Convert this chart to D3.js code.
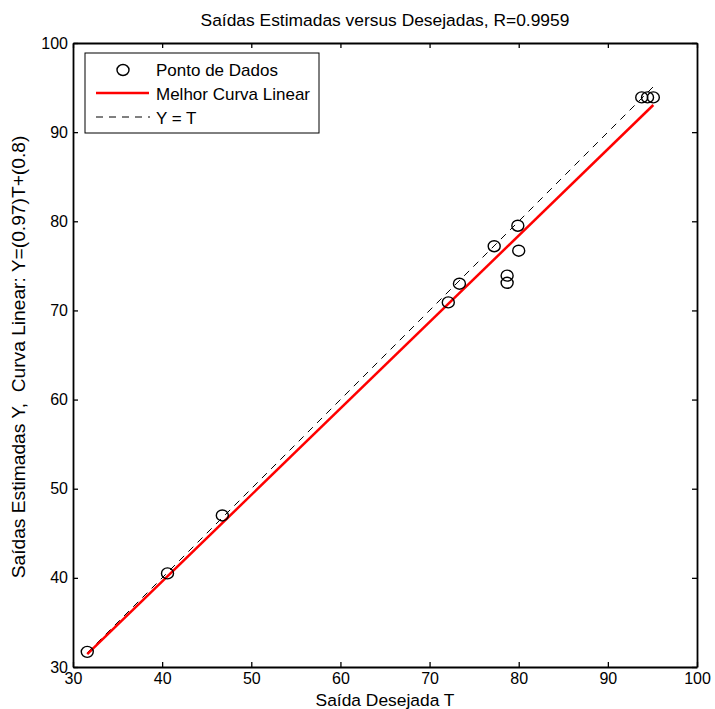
<!DOCTYPE html>
<html>
<head>
<meta charset="utf-8">
<script src="https://cdn.jsdelivr.net/npm/d3@7/dist/d3.min.js"></script>
<style>
  body { margin: 0; background: #fff; }
  svg { font-family: "Liberation Sans", Arial, sans-serif; }
  .axis path, .axis line { stroke: #000; }
  .axis text { font-size: 16px; fill: #000; font-family: "Liberation Sans", Arial, sans-serif; }
</style>
</head>
<body>
<svg id="chart"></svg>
<script>
// desired outputs T and estimated outputs Y
var targets = [31.6, 40.6, 46.75, 72.1, 73.35, 77.25, 79.9, 80.0, 78.7, 78.7, 93.8, 94.45, 95.1];
var outputs = [31.7, 40.5, 47.0, 70.9, 73.0, 77.2, 79.5, 76.7, 73.9, 73.1, 93.9, 93.9, 93.9];
var fitSlope = 0.97, fitIntercept = 0.8;
var xTicks = [30, 40, 50, 60, 70, 80, 90, 100];
var yTicks = [30, 40, 50, 60, 70, 80, 90, 100];
var legendLabels = ["Ponto de Dados", "Melhor Curva Linear", "Y = T"];

const W = 715, H = 709;
const margin = {top: 43, right: 18, bottom: 42, left: 73};
const width = W - margin.left - margin.right;
const height = H - margin.top - margin.bottom;

var svg = d3.select("#chart").attr("width", W).attr("height", H);
var g = svg.append("g").attr("transform", "translate(" + margin.left + "," + margin.top + ")");

var x = d3.scaleLinear().domain([30, 100]).range([0, width]);
var y = d3.scaleLinear().domain([30, 100]).range([height, 0]);

var data = targets.map((t, i) => ({t: t, y: outputs[i]}));
var tMin = d3.min(targets), tMax = d3.max(targets);

// axes, matlab style ticks pointing inwards on all four sides
g.append("g").attr("class", "axis").attr("transform", "translate(0," + height + ")")
  .call(d3.axisBottom(x).tickValues(xTicks).tickSize(-5).tickSizeOuter(0).tickPadding(6));
g.append("g").attr("class", "axis")
  .call(d3.axisTop(x).tickValues(xTicks).tickSize(-5).tickSizeOuter(0).tickFormat(""));
g.append("g").attr("class", "axis")
  .call(d3.axisLeft(y).tickValues(yTicks).tickSize(-5).tickSizeOuter(0).tickPadding(5));
g.append("g").attr("class", "axis").attr("transform", "translate(" + width + ",0)")
  .call(d3.axisRight(y).tickValues(yTicks).tickSize(-5).tickSizeOuter(0).tickFormat(""));
g.selectAll(".axis path").attr("stroke-width", 1.8);
g.selectAll(".axis line").attr("stroke-width", 1.3);

// Y = T line
g.append("line")
  .attr("x1", x(tMin)).attr("y1", y(tMin))
  .attr("x2", x(tMax)).attr("y2", y(tMax))
  .attr("stroke", "#000").attr("stroke-width", 1)
  .attr("stroke-dasharray", "7,6");

// best linear fit
g.append("line")
  .attr("x1", x(tMin)).attr("y1", y(fitSlope * tMin + fitIntercept))
  .attr("x2", x(tMax)).attr("y2", y(fitSlope * tMax + fitIntercept))
  .attr("stroke", "#ff0000").attr("stroke-width", 2.5);

// data points
g.selectAll("ellipse.pt").data(data).enter().append("ellipse")
  .attr("class", "pt")
  .attr("cx", d => x(d.t)).attr("cy", d => y(d.y))
  .attr("rx", 6).attr("ry", 5.5)
  .attr("fill", "none").attr("stroke", "#000").attr("stroke-width", 1.4);

// legend
var lg = svg.append("g").attr("transform", "translate(85,53)");
lg.append("rect").attr("width", 234).attr("height", 80)
  .attr("fill", "#fff").attr("stroke", "#000").attr("stroke-width", 1);
lg.append("ellipse").attr("cx", 38).attr("cy", 17).attr("rx", 6).attr("ry", 5.5)
  .attr("fill", "none").attr("stroke", "#000").attr("stroke-width", 1.4);
lg.append("line").attr("x1", 11).attr("x2", 64).attr("y1", 40).attr("y2", 40)
  .attr("stroke", "#ff0000").attr("stroke-width", 2.5);
lg.append("line").attr("x1", 11).attr("x2", 65).attr("y1", 64).attr("y2", 64)
  .attr("stroke", "#000").attr("stroke-width", 1).attr("stroke-dasharray", "7,6");
lg.selectAll("text.lab").data(legendLabels).enter().append("text")
  .attr("class", "lab")
  .attr("x", 71).attr("y", (d, i) => 17 + i * 24)
  .attr("dy", "0.36em")
  .attr("font-size", 17)
  .text(d => d);

// title and axis labels
svg.append("text").attr("x", margin.left + width / 2).attr("y", 26)
  .attr("text-anchor", "middle").attr("font-size", 17.4)
  .text("Saídas Estimadas versus Desejadas, R=0.9959");
svg.append("text").attr("x", margin.left + width / 2).attr("y", 706)
  .attr("text-anchor", "middle").attr("font-size", 17.4)
  .text("Saída Desejada T");
svg.append("text")
  .attr("transform", "translate(25," + (margin.top + height / 2 + 2) + ") rotate(-90)")
  .attr("text-anchor", "middle").attr("font-size", 19.2)
  .style("white-space", "pre")
  .text("Saídas Estimadas Y,  Curva Linear: Y=(0.97)T+(0.8)");
</script>
</body>
</html>
